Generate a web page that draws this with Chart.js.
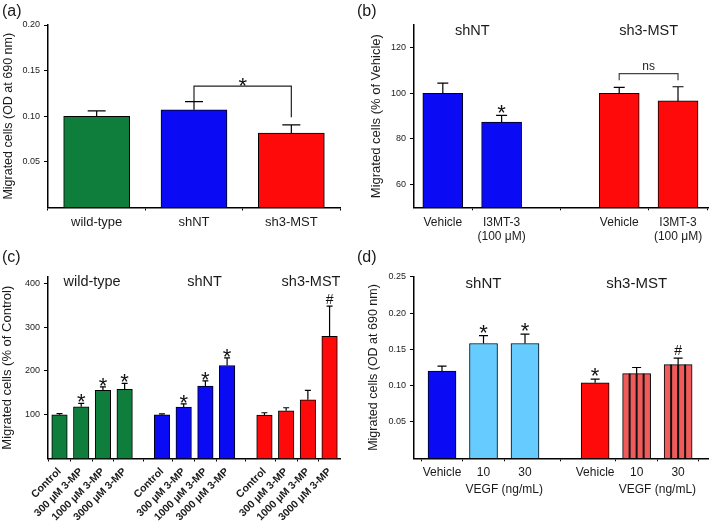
<!DOCTYPE html>
<html><head><meta charset="utf-8">
<script src="https://cdn.jsdelivr.net/npm/chart.js@4.4.0/dist/chart.umd.min.js"></script>
<style>
html,body{margin:0;padding:0;background:#fff;}
body{width:709px;height:523px;position:relative;overflow:hidden;}
canvas{position:absolute;}
</style></head><body>
<canvas id="ca" width="354" height="245" style="left:0;top:0"></canvas>
<canvas id="cb" width="355" height="245" style="left:354px;top:0"></canvas>
<canvas id="cc" width="354" height="278" style="left:0;top:245px"></canvas>
<canvas id="cd" width="355" height="278" style="left:354px;top:245px"></canvas>
<script>
// ---------------- data ----------------
const catsA = ['wild-type', 'shNT', 'sh3-MST'];
const valsA = [0.100, 0.107, 0.0815];
const errA  = [0.006, 0.009, 0.009];
const yTicksA = [0.05, 0.10, 0.15, 0.20];

const groupsB = ['shNT', 'sh3-MST'];
const catsB = [['Vehicle'], ['I3MT-3', '(100 μM)']];
const valsB = [[100, 87.4], [100, 96.7]];
const errB  = [[4.5, 2.9], [2.6, 6.2]];
const sigB  = [['', '*'], ['', '']];
const yTicksB = [60, 80, 100, 120];

const groupsC = ['wild-type', 'shNT', 'sh3-MST'];
const catsC = ['Control', '300 μM 3-MP', '1000 μM 3-MP', '3000 μM 3-MP'];
const valsC = [[100, 118, 155.5, 158], [100, 117.5, 165.5, 212.5], [99, 109, 134, 279]];
const errC  = [[2.5, 8, 8, 13.5], [2, 7.5, 12, 17.5], [5.5, 7, 21.5, 69]];
const sigC  = [['', '*', '*', '*'], ['', '*', '*', '*'], ['', '', '', '#']];
const yTicksC = [100, 200, 300, 400];

const groupsD = ['shNT', 'sh3-MST'];
const catsD = ['Vehicle', '10', '30'];
const subLabelD = 'VEGF (ng/mL)';
const valsD = [[0.120, 0.158, 0.158], [0.104, 0.1165, 0.129]];
const errD  = [[0.007, 0.011, 0.013], [0.005, 0.0085, 0.009]];
const sigD  = [['', '*', '*'], ['*', '', '#']];
const yTicksD = [0.05, 0.10, 0.15, 0.20, 0.25];

// ---------------- styling ----------------
const FAM = "'Liberation Sans', Arial, Helvetica, sans-serif";
Chart.defaults.font.family = FAM;
Chart.defaults.color = '#1a1a1a';
Chart.defaults.animation = false;
const GREEN = '#0f7d3c', BLUE = '#0a0af5', RED = '#ff0a0a', LBLUE = '#66ccff', SRED = '#ef5a5a';

function drawMark(ctx, ch, x, cy) {
  const size = ch === '#' ? 14 : 22;
  const k = ch === '#' ? 0.36 : 0.58;
  ctx.save();
  ctx.fillStyle = '#111';
  ctx.font = size + 'px ' + FAM;
  ctx.textAlign = 'center';
  ctx.textBaseline = 'alphabetic';
  ctx.fillText(ch, x, cy + k * size);
  ctx.restore();
}

function build(s) {
  const pos = [], vals = [], errs = [], sigs = [], labels = [], colors = [], stripes = [], grpIdx = [];
  s.vals.forEach((grp, g) => grp.forEach((v, i) => {
    pos.push(g * (grp.length + s.gap) + i);
    vals.push(v);
    errs.push(s.errs[g][i]);
    sigs.push(s.sigs ? s.sigs[g][i] : '');
    labels.push(s.cats[i]);
    colors.push(s.colors[g][i]);
    stripes.push(s.stripes ? s.stripes[g][i] : false);
    grpIdx.push(g);
  }));
  const xMin = -s.padL, xMax = pos[pos.length - 1] + s.padR;

  const deco = {
    id: 'deco_' + s.id,
    afterDatasetsDraw(chart) {
      const ctx = chart.ctx, xs = chart.scales.x, ys = chart.scales.y;
      const meta = chart.getDatasetMeta(0);
      ctx.save();
      meta.data.forEach((bar, k) => {
        if (!stripes[k]) return;
        const p = bar.getProps(['x', 'y', 'base', 'width'], true);
        const b = Math.min(p.base, chart.chartArea.bottom);
        ctx.strokeStyle = '#111'; ctx.lineWidth = 2;
        for (let j = 1; j < 4; j++) {
          const lx = p.x - p.width / 2 + j * p.width / 4;
          ctx.beginPath(); ctx.moveTo(lx, p.y); ctx.lineTo(lx, b); ctx.stroke();
        }
      });
      ctx.strokeStyle = '#000'; ctx.lineWidth = 1.2;
      pos.forEach((pp, k) => {
        const x = xs.getPixelForValue(pp);
        const y0 = ys.getPixelForValue(vals[k]);
        const y1 = ys.getPixelForValue(vals[k] + errs[k]);
        ctx.beginPath();
        ctx.moveTo(x, y0); ctx.lineTo(x, y1);
        ctx.moveTo(x - s.capPx / 2, y1); ctx.lineTo(x + s.capPx / 2, y1);
        ctx.stroke();
        if (sigs[k]) drawMark(ctx, sigs[k], x, y1 - s.markGap);
      });
      if (s.bracket) {
        const br = s.bracket;
        const xL = xs.getPixelForValue(pos[br.from]), xR = xs.getPixelForValue(pos[br.to]);
        const yT = ys.getPixelForValue(br.level);
        ctx.strokeStyle = br.color; ctx.lineWidth = 1.2;
        ctx.beginPath();
        ctx.moveTo(xL, ys.getPixelForValue(br.legs[0])); ctx.lineTo(xL, yT);
        ctx.lineTo(xR, yT); ctx.lineTo(xR, ys.getPixelForValue(br.legs[1]));
        ctx.stroke();
        if (br.label === '*') drawMark(ctx, '*', (xL + xR) / 2, yT - 6);
        else {
          ctx.fillStyle = '#222'; ctx.font = '12px ' + FAM;
          ctx.textAlign = 'center'; ctx.textBaseline = 'middle';
          ctx.fillText(br.label, (xL + xR) / 2, yT - 7);
        }
      }
      ctx.restore();
    },
    afterDraw(chart) {
      const ctx = chart.ctx, xs = chart.scales.x;
      ctx.save();
      ctx.fillStyle = '#1a1a1a';
      ctx.textAlign = 'center'; ctx.textBaseline = 'middle';
      if (s.groups) {
        ctx.font = s.groupSize + 'px ' + FAM;
        s.groups.forEach((name, g) => {
          const ps = pos.filter((_, k) => grpIdx[k] === g);
          const cx = (xs.getPixelForValue(ps[0]) + xs.getPixelForValue(ps[ps.length - 1])) / 2 + (s.groupShift ? s.groupShift[g] : 0);
          ctx.fillText(name, cx, s.groupY);
        });
      }
      if (s.subLabel) {
        ctx.font = '12px ' + FAM;
        s.vals.forEach((grp, g) => {
          const ps = pos.filter((_, k) => grpIdx[k] === g);
          const cx = (xs.getPixelForValue(ps[1]) + xs.getPixelForValue(ps[2])) / 2;
          ctx.fillText(s.subLabel, cx, s.subY);
        });
      }
      ctx.font = '16px ' + FAM;
      ctx.textAlign = 'left';
      ctx.fillText(s.panel, s.panelX, s.panelY);
      ctx.restore();
    }
  };

  return new Chart(document.getElementById(s.id), {
    type: 'bar',
    data: {
      datasets: [{
        data: pos.map((p, k) => ({ x: p, y: vals[k] })),
        backgroundColor: colors, borderColor: '#000', borderWidth: 1,
        barThickness: s.barPx, base: s.yMin
      }]
    },
    options: {
      responsive: false, animation: false,
      layout: { padding: { left: 0, top: s.area.t, right: s.W - s.area.r, bottom: 0 } },
      plugins: { legend: { display: false }, tooltip: { enabled: false } },
      scales: {
        x: {
          type: 'linear', min: xMin, max: xMax, offset: false,
          afterBuildTicks: sc => { sc.ticks = pos.map(v => ({ value: v })); },
          afterFit: sc => { sc.height = s.H - s.area.b; },
          ticks: {
            autoSkip: false, callback: (v, i) => labels[i],
            font: s.catFont, color: '#1a1a1a', padding: s.xPad,
            maxRotation: s.rot, minRotation: s.rot
          },
          grid: { drawOnChartArea: false, drawTicks: true, tickLength: 3, color: '#000', lineWidth: 1 },
          border: { display: true, color: '#000', width: 1.5 }
        },
        y: {
          type: 'linear', min: s.yMin, max: s.yMax,
          afterBuildTicks: sc => { sc.ticks = s.yTicks.map(v => ({ value: v })); },
          afterFit: sc => { sc.width = s.area.l; },
          ticks: { callback: v => s.yFmt(v), font: { size: 9 }, color: '#222', padding: 4 },
          grid: { drawOnChartArea: false, drawTicks: true, tickLength: 4, color: '#000', lineWidth: 1 },
          border: { display: true, color: '#000', width: 1.5 },
          title: {
            display: true, text: s.yTitle, color: '#1a1a1a',
            font: { size: s.titleSize, lineHeight: 1.2 },
            padding: { top: s.titlePad, bottom: 0 }
          }
        }
      }
    },
    plugins: [deco]
  });
}

const f2 = v => v.toFixed(2), f0 = v => String(Math.round(v));

build({
  id: 'ca', W: 354, H: 245, area: { l: 48, r: 340, t: 25, b: 207.5 },
  vals: [valsA], errs: [errA], cats: catsA, colors: [[GREEN, BLUE, RED]],
  gap: 0, padL: 0.5, padR: 0.5, yMin: 0, yMax: 0.20, yTicks: yTicksA, yFmt: f2,
  yTitle: 'Migrated cells (OD at 690 nm)', titleSize: 12.5, titlePad: 1,
  catFont: { size: 13 }, xPad: 4, rot: 0, barPx: 66, capPx: 18, markGap: 8,
  bracket: { from: 1, to: 2, level: 0.133, legs: [0.1165, 0.099], label: '*', color: '#222' },
  panel: '(a)', panelX: 2, panelY: 12
});

build({
  id: 'cb', W: 355, H: 245, area: { l: 60, r: 354, t: 25, b: 207.3 },
  vals: valsB, errs: errB, sigs: sigB, cats: catsB,
  colors: [[BLUE, BLUE], [RED, RED]], groups: groupsB, groupSize: 14.5, groupY: 31,
  gap: 1, padL: 0.49, padR: 0.51, yMin: 50, yMax: 130, yTicks: yTicksB, yFmt: f0,
  yTitle: 'Migrated cells (% of Vehicle)', titleSize: 13, titlePad: 15,
  catFont: { size: 12, lineHeight: 1.2 }, xPad: 5, rot: 0, barPx: 40, capPx: 11, markGap: 8.5,
  bracket: { from: 2, to: 3, level: 108.7, legs: [105.8, 105.8], label: 'ns', color: '#444' },
  panel: '(b)', panelX: 3, panelY: 12
});

build({
  id: 'cc', W: 354, H: 278, area: { l: 48, r: 340, t: 31.9, b: 213.5 },
  vals: valsC, errs: errC, sigs: sigC, cats: catsC,
  colors: [[GREEN, GREEN, GREEN, GREEN], [BLUE, BLUE, BLUE, BLUE], [RED, RED, RED, RED]],
  groups: groupsC, groupSize: 14.5, groupY: 37, groupShift: [0, 10, 14],
  gap: 0.72, padL: 0.53, padR: 0.48, yMin: 0, yMax: 415, yTicks: yTicksC, yFmt: f0,
  yTitle: 'Migrated cells (% of Control)', titleSize: 13, titlePad: 0,
  catFont: { size: 10.5, weight: 'bold' }, xPad: 4, rot: 45, barPx: 15.5, capPx: 6, markGap: 7,
  panel: '(c)', panelX: 2, panelY: 13
});

build({
  id: 'cd', W: 355, H: 278, area: { l: 60, r: 354, t: 31.7, b: 213.3 },
  vals: valsD, errs: errD, sigs: sigD, cats: catsD,
  colors: [[BLUE, LBLUE, LBLUE], [RED, SRED, SRED]],
  stripes: [[false, false, false], [false, true, true]],
  groups: groupsD, groupSize: 15, groupY: 39, subLabel: subLabelD, subY: 245,
  gap: 0.69, padL: 0.675, padR: 0.72, yMin: 0, yMax: 0.25, yTicks: yTicksD, yFmt: f2,
  yTitle: 'Migrated cells (OD at 690 nm)', titleSize: 12.5, titlePad: 12,
  catFont: { size: 12 }, xPad: 4, rot: 0, barPx: 28, capPx: 9, markGap: 8.5,
  panel: '(d)', panelX: 3, panelY: 13
});
</script>
</body></html>
